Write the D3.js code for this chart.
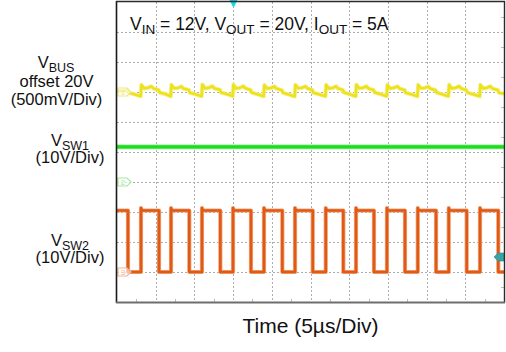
<!DOCTYPE html>
<html>
<head>
<meta charset="utf-8">
<script src="https://cdn.jsdelivr.net/npm/d3@7"></script>
<style>
  html, body { margin: 0; padding: 0; background: #fff; }
  #chart-scope { width: 506px; height: 352px; }
  text { font-family: "Liberation Sans", Arial, sans-serif; fill: #111; }
</style>
</head>
<body>
<div id="chart-scope"></div>
<script>
var TIME_TICKS = [0, 5, 10, 15, 20, 25, 30, 35, 40, 45, 50];          // µs, 5µs/Div
var DIV_TICKS  = [-5, -4, -3, -2, -1, 0, 1, 2, 3, 4, 5];

// V_SW2 switching edges (µs)
var SW2_RISE = [3.10, 6.98, 10.98, 14.99, 18.99, 23.00, 26.97, 30.88, 34.88, 38.86, 42.86, 46.90];
var SW2_FALL = [1.42, 5.43, 9.34, 13.35, 17.31, 21.36, 25.29, 29.24, 33.20, 37.21, 41.22, 45.18, 49.26];
var SW2_HIGH = 20.5;   // V
var SW2_LOW  = 0;      // V
var SW2_OVER = 0.8;    // V, overshoot at each rising edge

// V_SW1 (V)
var SW1_LEVEL = 11.7;

// trigger: position (µs) and level on V_SW2 (V)
var TRIG_T = 15;
var TRIG_V = 5;

// V_BUS ripple, offset 20V: time (µs) / ripple (mV)
var VBUS = [
    [0.00, 15], [0.70, 18], [1.37, 28], [1.50, -12], [2.22, -38],
    [3.06, -70], [3.15, 120], [3.50, 60], [4.00, 70], [4.45, 95], [4.70, 60], [5.38, 35], [5.51, -10], [6.23, -35],
    [6.94, -72], [7.03, 118], [7.38, 62], [7.88, 68], [8.33, 92], [8.58, 58], [9.29, 32], [9.42, -12], [10.14, -38],
    [10.94, -70], [11.03, 125], [11.38, 60], [11.88, 72], [12.33, 96], [12.58, 60], [13.30, 36], [13.43, -8], [14.15, -35],
    [14.95, -68], [15.04, 122], [15.39, 58], [15.89, 70], [16.34, 98], [16.59, 62], [17.26, 34], [17.39, -10], [18.11, -36],
    [18.95, -72], [19.04, 116], [19.39, 60], [19.89, 66], [20.34, 92], [20.59, 58], [21.31, 30], [21.44, -14], [22.16, -40],
    [22.96, -74], [23.05, 120], [23.40, 64], [23.90, 70], [24.35, 94], [24.60, 60], [25.24, 32], [25.37, -12], [26.09, -38],
    [26.93, -70], [27.02, 118], [27.37, 60], [27.87, 68], [28.32, 95], [28.57, 58], [29.19, 34], [29.32, -10], [30.04, -36],
    [30.84, -72], [30.93, 122], [31.28, 62], [31.78, 70], [32.23, 96], [32.48, 60], [33.15, 35], [33.28, -8], [34.00, -34],
    [34.84, -70], [34.93, 120], [35.28, 58], [35.78, 70], [36.23, 94], [36.48, 60], [37.16, 33], [37.29, -12], [38.01, -38],
    [38.82, -72], [38.91, 118], [39.26, 62], [39.76, 68], [40.21, 92], [40.46, 58], [41.17, 30], [41.30, -10], [42.02, -36],
    [42.82, -70], [42.91, 122], [43.26, 60], [43.76, 70], [44.21, 96], [44.46, 60], [45.13, 34], [45.26, -10], [45.98, -36],
    [46.86, -72], [46.95, 120], [47.30, 60], [47.80, 70], [48.25, 95], [48.50, 58], [49.21, 32], [49.34, -12], [50.00, -30]
];

var TITLE = [["V", ""], ["IN", "sub"], [" = 12V, V", ""], ["OUT", "sub"], [" = 20V, I", ""], ["OUT", "sub"], [" = 5A", ""]];
var X_LABEL = "Time (5\u00b5s/Div)";

/* ── scope channel settings ─────────────────────────────────────── */
var CHANNELS = {
    vbus: { perDiv: 500, ref:  2, color: "#ece31c", halo: "#f6f09a", mark: "#eee58e", num: "1" },
    sw1:  { perDiv: 10,  ref: -1, color: "#1edc1e", halo: "#8cee8c", mark: "#a6e8a0", num: "2" },
    sw2:  { perDiv: 10,  ref: -4, color: "#e05a16", halo: "#f0a57a", mark: "#f4b494", num: "3" }
};

(function () {

    var W = 506, H = 352;
    var plot = { left: 117, right: 504, top: 2, bottom: 302 };

    var svg = d3.select("#chart-scope")
        .append("svg")
        .attr("width",  W)
        .attr("height", H);

    var x = d3.scaleLinear().domain([0, 50]).range([plot.left, plot.right]);
    var yDiv = d3.scaleLinear().domain([-5, 5]).range([plot.bottom, plot.top]);

    function yOf(ch, v) { return yDiv(ch.ref + v / ch.perDiv); }

    svg.append("defs").append("clipPath")
        .attr("id", "clip-scope")
        .append("rect")
        .attr("x", plot.left).attr("y", plot.top)
        .attr("width",  plot.right - plot.left)
        .attr("height", plot.bottom - plot.top);

    /* ── graticule ─────────────────────────────────────────────── */
    var grid = svg.append("g").attr("class", "grid");

    grid.selectAll("line.gx")
        .data(TIME_TICKS.slice(1, -1))
        .enter().append("line")
        .attr("class", "gx")
        .attr("x1", function (d) { return Math.round(x(d)) + 0.5; })
        .attr("x2", function (d) { return Math.round(x(d)) + 0.5; })
        .attr("y1", plot.top).attr("y2", plot.bottom)
        .attr("stroke", "#adadad")
        .attr("stroke-width", 1)
        .attr("stroke-dasharray", "2 2");

    grid.selectAll("line.gy")
        .data(DIV_TICKS.slice(1, -1))
        .enter().append("line")
        .attr("class", "gy")
        .attr("x1", plot.left).attr("x2", plot.right)
        .attr("y1", function (d) { return Math.round(yDiv(d)) + 0.5; })
        .attr("y2", function (d) { return Math.round(yDiv(d)) + 0.5; })
        .attr("stroke", "#adadad")
        .attr("stroke-width", 1)
        .attr("stroke-dasharray", "2 2");

    // small half-division ticks on the frame
    var halfT = TIME_TICKS.slice(0, -1).map(function (d) { return d + 2.5; });
    var halfD = DIV_TICKS.slice(0, -1).map(function (d) { return d + 0.5; });

    grid.selectAll("line.tb")
        .data(halfT)
        .enter().append("line")
        .attr("class", "tb")
        .attr("x1", function (d) { return Math.round(x(d)) + 0.5; })
        .attr("x2", function (d) { return Math.round(x(d)) + 0.5; })
        .attr("y1", plot.bottom - 3).attr("y2", plot.bottom)
        .attr("stroke", "#bdbdbd");

    grid.selectAll("line.tr")
        .data(halfD)
        .enter().append("line")
        .attr("class", "tr")
        .attr("x1", plot.right - 3).attr("x2", plot.right)
        .attr("y1", function (d) { return Math.round(yDiv(d)) + 0.5; })
        .attr("y2", function (d) { return Math.round(yDiv(d)) + 0.5; })
        .attr("stroke", "#bdbdbd");

    /* ── traces ────────────────────────────────────────────────── */
    var traces = svg.append("g").attr("clip-path", "url(#clip-scope)");

    function drawTrace(pts, ch, width) {
        var line = d3.line()
            .x(function (d) { return x(d[0]); })
            .y(function (d) { return yOf(ch, d[1]); });
        traces.append("path")
            .datum(pts)
            .attr("d", line)
            .attr("fill", "none")
            .attr("stroke", ch.halo)
            .attr("stroke-width", width + 1.6)
            .attr("stroke-linejoin", "round");
        traces.append("path")
            .datum(pts)
            .attr("d", line)
            .attr("fill", "none")
            .attr("stroke", ch.color)
            .attr("stroke-width", width)
            .attr("stroke-linejoin", "round");
    }

    // V_BUS
    drawTrace(VBUS, CHANNELS.vbus, 2.6);

    // V_SW1
    drawTrace([[0, SW1_LEVEL], [50, SW1_LEVEL]], CHANNELS.sw1, 3.2);

    // V_SW2, built from the edge lists
    var edges = SW2_RISE.map(function (t) { return { t: t, up: true }; })
        .concat(SW2_FALL.map(function (t) { return { t: t, up: false }; }))
        .sort(function (a, b) { return a.t - b.t; });

    var sw2 = [[0, SW2_HIGH]];
    var level = SW2_HIGH;
    edges.forEach(function (e) {
        if (e.up) {
            sw2.push([e.t, SW2_LOW], [e.t, SW2_HIGH + SW2_OVER], [e.t + 0.12, SW2_HIGH]);
            level = SW2_HIGH;
        } else {
            sw2.push([e.t, SW2_HIGH], [e.t, SW2_LOW]);
            level = SW2_LOW;
        }
    });
    sw2.push([50, level]);
    drawTrace(sw2, CHANNELS.sw2, 2.6);

    /* ── channel ground markers ────────────────────────────────── */
    Object.keys(CHANNELS).forEach(function (k) {
        var ch = CHANNELS[k];
        var cy = yDiv(ch.ref);
        var g  = svg.append("g").attr("transform", "translate(" + (plot.left + 1) + "," + cy + ")");
        g.append("path")
            .attr("d", "M0,-4 L9,-4 L13,0 L9,4 L0,4 Z")
            .attr("fill", "#fff")
            .attr("fill-opacity", 0.6)
            .attr("stroke", ch.mark)
            .attr("stroke-width", 1.2);
        g.append("text")
            .attr("x", 5).attr("y", 2.8)
            .attr("text-anchor", "middle")
            .style("font-size", "8px")
            .style("fill", ch.mark)
            .text(ch.num);
    });

    // trigger level (right edge) on V_SW2
    var trigY = yOf(CHANNELS.sw2, TRIG_V);
    svg.append("path")
        .attr("d", "M" + (plot.right - 10) + "," + trigY +
                   " L" + (plot.right - 6) + "," + (trigY - 4) +
                   " L" + plot.right + "," + (trigY - 4) +
                   " L" + plot.right + "," + (trigY + 4) +
                   " L" + (plot.right - 6) + "," + (trigY + 4) + " Z")
        .attr("fill", "#3aa3a6")
        .attr("stroke", "#2c8a8c")
        .attr("stroke-width", 0.6);

    // trigger position (top)
    var trigX = Math.round(x(TRIG_T)) + 0.5;
    svg.append("path")
        .attr("d", "M" + (trigX - 4) + ",0 L" + (trigX + 4) + ",0 L" + trigX + ",8 Z")
        .attr("fill", "#1fd3e3");

    /* ── frame ─────────────────────────────────────────────────── */
    svg.append("line")
        .attr("x1", plot.left - 0.5).attr("x2", plot.left - 0.5)
        .attr("y1", plot.top - 1).attr("y2", plot.bottom + 1)
        .attr("stroke", "#1a1a1a").attr("stroke-width", 1.6);
    svg.append("line")
        .attr("x1", plot.left - 1).attr("x2", plot.right + 1)
        .attr("y1", plot.top - 0.5).attr("y2", plot.top - 0.5)
        .attr("stroke", "#2a2a2a").attr("stroke-width", 1.4);
    svg.append("line")
        .attr("x1", plot.right + 0.5).attr("x2", plot.right + 0.5)
        .attr("y1", plot.top - 1).attr("y2", plot.bottom + 1)
        .attr("stroke", "#2a2a2a").attr("stroke-width", 1.4);
    svg.append("line")
        .attr("x1", plot.left - 1).attr("x2", plot.right + 1)
        .attr("y1", plot.bottom + 0.5).attr("y2", plot.bottom + 0.5)
        .attr("stroke", "#6e6e6e").attr("stroke-width", 2);

    /* ── text ──────────────────────────────────────────────────── */
    var title = svg.append("text")
        .attr("x", 130).attr("y", 30)
        .style("font-size", "17.5px");
    TITLE.forEach(function (p, i) {
        var ts = title.append("tspan").text(p[0]);
        if (p[1] === "sub") ts.style("font-size", "13.5px").attr("dy", 3.5);
        else ts.attr("dy", i === 0 ? 0 : -3.5);
    });

    function subLabel(cx, y, main, sub) {
        var t = svg.append("text")
            .attr("x", cx).attr("y", y)
            .attr("text-anchor", "middle")
            .style("font-size", "16.5px");
        t.append("tspan").text(main);
        t.append("tspan").attr("dy", 3.5).style("font-size", "12.5px").text(sub);
    }
    function plainLabel(cx, y, s) {
        svg.append("text")
            .attr("x", cx).attr("y", y)
            .attr("text-anchor", "middle")
            .style("font-size", "16.5px")
            .text(s);
    }

    subLabel(56, 68, "V", "BUS");
    plainLabel(56.5, 87, "offset 20V");
    plainLabel(56.5, 104.5, "(500mV/Div)");

    subLabel(70, 146, "V", "SW1");
    plainLabel(70, 162.5, "(10V/Div)");

    subLabel(70, 246, "V", "SW2");
    plainLabel(70, 262.5, "(10V/Div)");

    svg.append("text")
        .attr("x", (plot.left + plot.right) / 2).attr("y", 333)
        .attr("text-anchor", "middle")
        .style("font-size", "21px")
        .text(X_LABEL);

}());
</script>
</body>
</html>
